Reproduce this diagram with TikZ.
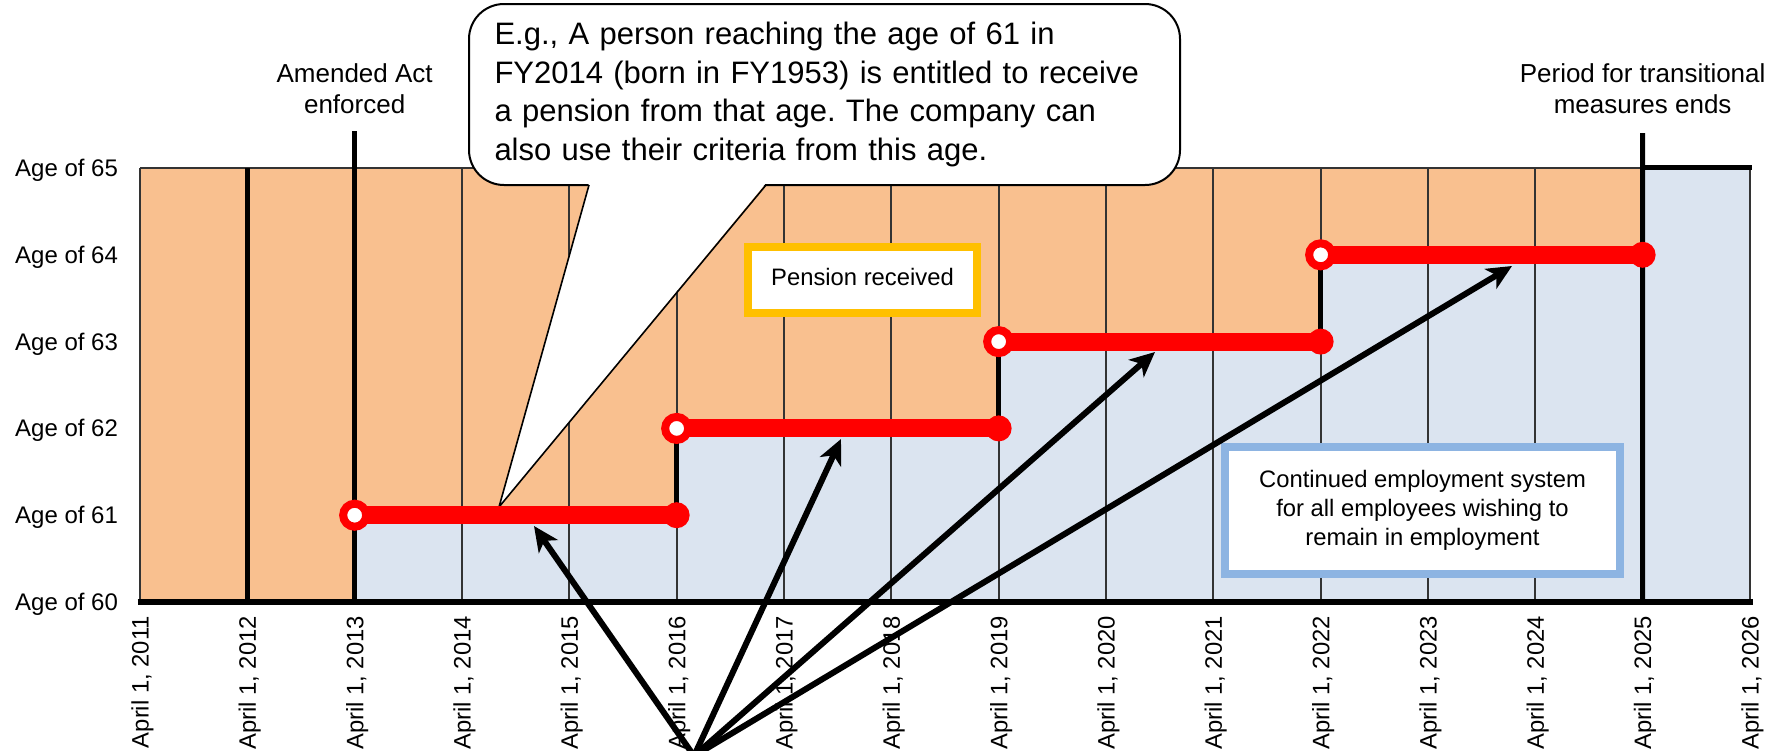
\documentclass[tikz,border=0pt]{standalone}
\usepackage{fontspec}
\setmainfont{Liberation Sans}
\usetikzlibrary{arrows.meta}

\definecolor{pensionfill}{HTML}{F9C08F}
\definecolor{workfill}{HTML}{DBE4F0}
\definecolor{gridline}{HTML}{333333}
\definecolor{pensionedge}{HTML}{FFC000}
\definecolor{workedge}{HTML}{8DB4E2}

\begin{document}
\frenchspacing
\begin{tikzpicture}[x=1pt, y=-1pt,
  thinrule/.style={draw=gridline, line width=1.8pt},
  thickrule/.style={draw=black, line width=5pt},
  agelabel/.style={anchor=base west, inner sep=0pt, font=\fontsize{24}{29}\selectfont},
  yearlabel/.style={rotate=90, anchor=base east, inner sep=0pt, font=\fontsize{23.8}{28}\selectfont},
  headline/.style={anchor=north, align=center, inner sep=0pt, font=\fontsize{26}{31}\selectfont},
  notebox/.style={line width=8pt, fill=white, inner sep=0pt, align=center, font=\fontsize{23.8}{29}\selectfont},
  rung/.style={draw=red, line width=18pt},
  opendot/.style={draw=red, line width=8pt, fill=white},
  enddot/.style={fill=red},
  pointer/.style={draw=black, line width=6pt, -{Stealth[length=25pt,width=23pt,inset=7pt]}},
  bubble/.style={draw=black, line width=2pt, fill=white},
]
\useasboundingbox (0,0) rectangle (1776,750);
\clip (0,0) rectangle (1776,750);

% year ticks along the bottom and the top of the chart
\foreach \i in {0,...,15} {
  \coordinate (b\i) at ({140+107.33*\i},602);
  \coordinate (h\i) at ({140+107.33*\i},168);
}

% employment area (blue) and pension area (orange staircase)
\fill[workfill] (140,168) rectangle (1750,602);
\fill[pensionfill] (140,168) -- (1642.6,168) -- (1642.6,254.8) -- (1320.6,254.8)
  -- (1320.6,341.6) -- (998.6,341.6) -- (998.6,428.4) -- (676.6,428.4)
  -- (676.6,515.2) -- (354.7,515.2) -- (354.7,602) -- (140,602) -- cycle;

% grid
\foreach \i in {0,...,15} \draw[thinrule] (h\i) -- (b\i);
\draw[thinrule] (h0) -- (h14);

% heavy rules
\draw[thickrule, line width=4.5pt] (h1) -- (b1);
\draw[thickrule] (354.66,131) -- (b2);
\draw[thickrule] (1642.62,133) -- (b14);
\draw[thickrule] (1642.62,167) -- (1752,167);
\draw[thickrule] (676.65,515.2) -- (676.65,428.4);
\draw[thickrule] (998.64,428.4) -- (998.64,341.6);
\draw[thickrule] (1320.63,341.6) -- (1320.63,254.8);
\draw[thickrule, line width=5.5pt] (137.5,602) -- (1752.5,602);

% legend boxes
\node[notebox, draw=pensionedge, minimum width=229pt, minimum height=66pt, text depth=7pt]
  (pension) at (862.5,280) {Pension received};
\node[notebox, draw=workedge, minimum width=395pt, minimum height=127pt]
  (continued) at (1422.5,510.5) {Continued employment system\\for all employees wishing to\\remain in employment};

% callout
\node[bubble, rounded corners=35pt, minimum width=711pt, minimum height=181pt, inner sep=0pt,
  text width=660pt, align=left, font=\fontsize{31}{38.5}\selectfont] (note) at (824.5,94.5)
  {E.g., A person reaching the age of 61 in\\FY2014 (born in FY1953) is entitled to receive\\a pension from that age. The company can\\also use their criteria from this age.};
\fill[white] (589,183) -- (499,507) -- (766,183) -- cycle;
\draw[black, line width=1.6pt] (589,185) -- (499,507) -- (766,185);

% pensionable age steps
\coordinate (s1) at (354.66,515.2);  \coordinate (e1) at (676.65,515.2);
\coordinate (s2) at (676.65,428.4);  \coordinate (e2) at (998.64,428.4);
\coordinate (s3) at (998.64,341.6);  \coordinate (e3) at (1320.63,341.6);
\coordinate (s4) at (1320.63,254.8); \coordinate (e4) at (1642.62,254.8);
\foreach \k in {1,...,4} {
  \draw[rung] (s\k) -- (e\k);
  \fill[enddot] (e\k) circle[radius=13pt];
  \draw[opendot] (s\k) circle[radius=11.5pt];
}

% pointers from below
\coordinate (src) at (694,756);
\coordinate (p1) at (534,526);
\coordinate (p2) at (841,439);
\coordinate (p3) at (1155,352);
\coordinate (p4) at (1512,266);

% labels
\foreach \a in {0,...,5} {
  \pgfmathsetmacro\yy{602-86.8*\a}
  \pgfmathtruncatemacro\ag{60+\a}
  \node[agelabel] (age\ag) at (15,{\yy+8.5}) {Age of \ag};
}
\foreach \i in {0,...,15} {
  \pgfmathtruncatemacro\yr{2011+\i}
  \node[yearlabel] (yr\yr) at ({148.6+107.33*\i},616) {April 1, \yr};
}
\node[headline] (amended) at (354.66,63.4) {Amended Act\\enforced};
\node[headline] (period) at (1642.62,63.4) {Period for transitional\\measures ends};

\foreach \k in {1,...,4} \draw[pointer] (src) -- (p\k);
\end{tikzpicture}
\end{document}
